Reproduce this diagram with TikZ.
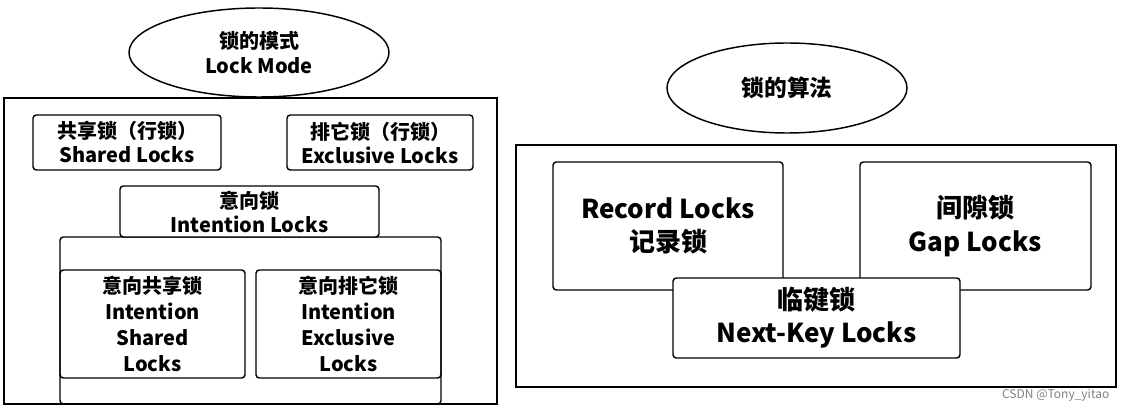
\documentclass[tikz,border=0pt]{standalone}
\usepackage{fontspec}
\setmainfont{Noto Sans CJK SC}
\usetikzlibrary{shapes.geometric}
\begin{document}
\begin{tikzpicture}[x=0.75pt,y=-0.75pt,line width=1.1pt,
  bx/.style={draw,rounded corners=2.5pt,inner sep=0pt,align=center,font=\bfseries\fontsize{15}{18}\selectfont},
  bxl/.style={bx,font=\bfseries\fontsize{19.5}{25}\selectfont},
  el/.style={draw,ellipse,inner sep=0pt,align=center}]
\useasboundingbox (0,0) rectangle (1122,409);
% left
\node[draw,minimum width=493*0.75pt,minimum height=306*0.75pt,inner sep=0pt] (L) at (250.5,251) {};
\node[el,minimum width=260*0.75pt,minimum height=89*0.75pt,font=\bfseries\fontsize{15}{19}\selectfont] (e1) at (259,52.5) {锁的模式\\Lock Mode};
\node[bx,minimum width=188*0.75pt,minimum height=55*0.75pt] (s) at (127,142.5) {共享锁（行锁）\\Shared Locks};
\node[bx,minimum width=186*0.75pt,minimum height=55*0.75pt] (x) at (380,142.5) {排它锁（行锁）\\Exclusive Locks};
\node[bx,minimum width=381*0.75pt,minimum height=167*0.75pt] (c) at (250.5,320.5) {};
\node[bx,minimum width=259*0.75pt,minimum height=51*0.75pt,fill=white] (i) at (249.5,211.5) {意向锁\\Intention Locks};
\node[bx,minimum width=185*0.75pt,minimum height=108*0.75pt,font=\bfseries\fontsize{15}{19.5}\selectfont] (is) at (152.5,324) {意向共享锁\\Intention\\Shared\\Locks};
\node[bx,minimum width=185*0.75pt,minimum height=108*0.75pt,font=\bfseries\fontsize{15}{19.5}\selectfont] (ix) at (348.5,324) {意向排它锁\\Intention\\Exclusive\\Locks};
% right
\node[draw,minimum width=600*0.75pt,minimum height=242*0.75pt,inner sep=0pt] (R) at (816,266) {};
\node[el,minimum width=240*0.75pt,minimum height=90*0.75pt,font=\bfseries\fontsize{17}{20}\selectfont] (e2) at (787,88) {锁的算法};
\node[bxl,minimum width=230*0.75pt,minimum height=128*0.75pt] (r) at (668,226) {Record Locks\\记录锁};
\node[bxl,minimum width=231*0.75pt,minimum height=128*0.75pt] (g) at (975.5,226) {间隙锁\\Gap Locks};
\node[bxl,minimum width=287*0.75pt,minimum height=80*0.75pt,fill=white] (n) at (816.5,318) {临键锁\\Next-Key Locks};
\node[anchor=east,text=gray,font=\fontsize{9}{10}\selectfont,inner sep=0pt] (w) at (1110,395) {CSDN @Tony\_yitao};
\end{tikzpicture}
\end{document}
